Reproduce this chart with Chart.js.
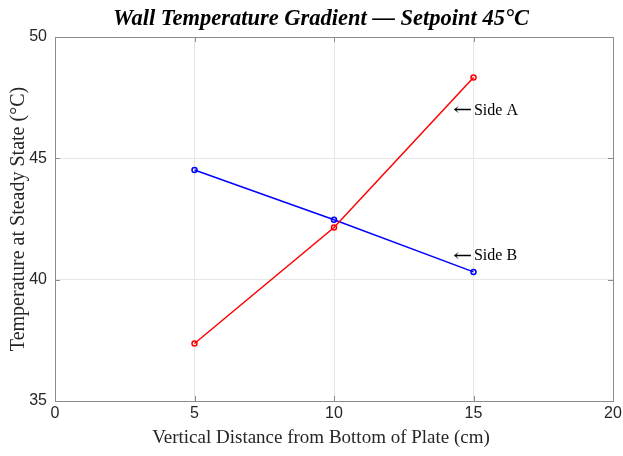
<!DOCTYPE html>
<html>
<head>
<meta charset="utf-8">
<script src="https://cdn.jsdelivr.net/npm/chart.js@4"></script>
<style>
  html, body { margin: 0; padding: 0; background: #ffffff; }
  #wrap { width: 623px; height: 456px; position: relative; }
</style>
</head>
<body>
<div id="wrap"><canvas id="c" width="623" height="456"></canvas></div>
<script>
const positions = [5, 10, 15];
const sideA = [37.37, 42.15, 48.33];
const sideB = [44.52, 42.47, 40.32];
const xTicks = [0, 5, 10, 15, 20];
const yTicks = [35, 40, 45, 50];
const titleText = 'Wall Temperature Gradient \u2014 Setpoint 45\u00B0C';
const xTitleText = 'Vertical Distance from Bottom of Plate (cm)';
const labels = [
  { text: 'Side A', x: 14.3, y: 46.95 },
  { text: 'Side B', x: 14.3, y: 40.97 }
];

const toPts = (xs, ys) => xs.map((x, i) => ({ x: x, y: ys[i] }));

const boxPlugin = {
  id: 'box',
  afterDatasetsDraw(chart) {
    const { ctx, chartArea: a, scales } = chart;
    ctx.save();
    ctx.strokeStyle = '#8c8c8c';
    ctx.lineWidth = 1;
    const tl = 5;
    ctx.beginPath();
    xTicks.forEach(v => {
      const px = Math.round(scales.x.getPixelForValue(v)) + 0.5;
      ctx.moveTo(px, a.bottom); ctx.lineTo(px, a.bottom - tl);
      ctx.moveTo(px, a.top); ctx.lineTo(px, a.top + tl);
    });
    yTicks.forEach(v => {
      const py = Math.round(scales.y.getPixelForValue(v)) + 0.5;
      ctx.moveTo(a.left, py); ctx.lineTo(a.left + tl, py);
      ctx.moveTo(a.right, py); ctx.lineTo(a.right - tl, py);
    });
    ctx.stroke();
    ctx.strokeRect(Math.round(a.left) + 0.5, Math.round(a.top) + 0.5,
                   Math.round(a.right - a.left), Math.round(a.bottom - a.top));
    ctx.fillStyle = '#000000';
    ctx.textAlign = 'left';
    ctx.textBaseline = 'middle';
    labels.forEach(l => {
      const px = scales.x.getPixelForValue(l.x);
      const py = scales.y.getPixelForValue(l.y);
      ctx.font = '17px "DejaVu Serif", serif';
      ctx.save();
      ctx.translate(px - 1, py);
      ctx.scale(1.35, 1);
      ctx.fillText('\u2190', 0, 0);
      ctx.restore();
      ctx.font = '16px "Liberation Serif", "Times New Roman", serif';
      ctx.fillText(l.text, px + 20, py);
    });
    ctx.font = 'italic bold 22.5px "Liberation Serif", "Times New Roman", serif';
    ctx.textAlign = 'center';
    ctx.fillText(titleText, 321, 19);
    ctx.fillStyle = '#262626';
    ctx.font = '19px "Liberation Serif", "Times New Roman", serif';
    ctx.fillText(xTitleText, 321, 438);
    ctx.restore();
  }
};

new Chart(document.getElementById('c'), {
  type: 'line',
  data: {
    datasets: [
      {
        label: 'Side A',
        data: toPts(positions, sideA),
        borderColor: '#ff0000',
        backgroundColor: 'rgba(0,0,0,0)',
        pointBorderColor: '#ff0000',
        pointBackgroundColor: 'rgba(0,0,0,0)',
        pointRadius: 2.5,
        pointBorderWidth: 1.5,
        borderWidth: 1.5,
        tension: 0
      },
      {
        label: 'Side B',
        data: toPts(positions, sideB),
        borderColor: '#0000ff',
        backgroundColor: 'rgba(0,0,0,0)',
        pointBorderColor: '#0000ff',
        pointBackgroundColor: 'rgba(0,0,0,0)',
        pointRadius: 2.5,
        pointBorderWidth: 1.5,
        borderWidth: 1.5,
        tension: 0
      }
    ]
  },
  options: {
    responsive: false,
    animation: false,
    devicePixelRatio: 1,
    layout: { padding: { left: 0, right: 10, top: 37, bottom: 0 } },
    plugins: {
      legend: { display: false },
      tooltip: { enabled: false },
      title: { display: false }
    },
    scales: {
      x: {
        type: 'linear',
        min: 0, max: 20,
        afterBuildTicks: s => { s.ticks = xTicks.map(v => ({ value: v })); },
        afterFit: s => { s.height = 55; s.paddingRight = 0; s.paddingLeft = 0; },
        grid: { color: '#e6e6e6', drawTicks: false, lineWidth: 1 },
        border: { display: false },
        ticks: {
          color: '#262626',
          padding: 3,
          font: { family: '"Liberation Sans", Arial, sans-serif', size: 16 }
        },
        title: { display: false }
      },
      y: {
        type: 'linear',
        min: 35, max: 50,
        afterBuildTicks: s => { s.ticks = yTicks.map(v => ({ value: v })); },
        afterFit: s => { s.width = 55; s.paddingTop = 0; s.paddingBottom = 0; },
        grid: { color: '#e6e6e6', drawTicks: false, lineWidth: 1 },
        border: { display: false },
        ticks: {
          color: '#262626',
          padding: 8,
          font: { family: '"Liberation Sans", Arial, sans-serif', size: 16 }
        },
        title: {
          display: true,
          text: 'Temperature at Steady State (\u00B0C)',
          color: '#262626',
          font: { family: '"Liberation Serif", "Times New Roman", serif', size: 20 },
          padding: { top: 7, bottom: 0 }
        }
      }
    }
  },
  plugins: [boxPlugin]
});
</script>
</body>
</html>
